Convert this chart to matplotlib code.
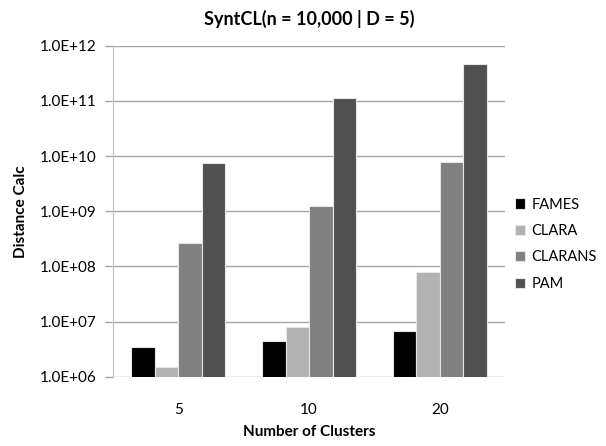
import numpy as np
import matplotlib
matplotlib.use("Agg")
from matplotlib import pyplot as plt
from matplotlib.ticker import FuncFormatter, FixedLocator

# distance computations per algorithm, SyntCL n=10,000, D=5
clusters = ["5", "10", "20"]
methods = ["FAMES", "CLARA", "CLARANS", "PAM"]
fames = [3.5e6, 4.5e6, 6.6e6]
clara = [1.5e6, 7.8e6, 7.9e7]
clarans = [2.6e8, 1.24e9, 7.8e9]
pam = [7.4e9, 1.15e11, 4.7e11]
colors = ["#000000", "#b2b2b2", "#808080", "#505050"]

plt.rcParams['font.family'] = ['Lato', 'DejaVu Sans']

fig = plt.figure(figsize=(6.06, 4.46), dpi=100)
ax = fig.add_axes([0.1865, 0.1554, 0.6469, 0.7421])

x = np.arange(len(clusters))
w = 0.18
for i, (name, vals) in enumerate(zip(methods, [fames, clara, clarans, pam])):
    ax.bar(x + (i - 1.5) * w, vals, width=w, color=colors[i], label=name,
           edgecolor="#e6e6e6", linewidth=0.8, zorder=3)

ax.set_yscale("log")
ax.set_ylim(1e6, 1e12)
ax.set_xlim(-0.5, 2.5)
ax.yaxis.set_major_locator(FixedLocator([10.0 ** k for k in range(6, 13)]))
ax.yaxis.set_minor_locator(FixedLocator([]))
ax.yaxis.set_major_formatter(FuncFormatter(lambda v, p: "1.0E+%02d" % round(np.log10(v))))
ax.grid(axis="y", color="#a6a6a6", linewidth=1.0, zorder=0)

ax.set_xticks(x)
ax.set_xticklabels(clusters)
ax.tick_params(axis="x", length=0, pad=19, labelsize=11)
ax.tick_params(axis="y", length=6, color="#a6a6a6", width=1.0, pad=6, labelsize=11)

for s in ["top", "right", "bottom"]:
    ax.spines[s].set_visible(False)
ax.spines["left"].set_color("#bfbfbf")

ax.set_title("SyntCL(n = 10,000 | D = 5)", fontsize=13, fontweight="bold", pad=15)
ax.set_xlabel("Number of Clusters", fontsize=11, fontweight="bold", labelpad=6)
ax.set_ylabel("Distance Calc", fontsize=11, fontweight="bold", labelpad=8)

ax.legend(loc="center left", bbox_to_anchor=(1.0, 0.40), frameon=False,
          borderaxespad=0.3, fontsize=10.5, handlelength=0.7, handleheight=0.7,
          handletextpad=0.4, labelspacing=0.85)

fig.savefig("out.png", dpi=100)
